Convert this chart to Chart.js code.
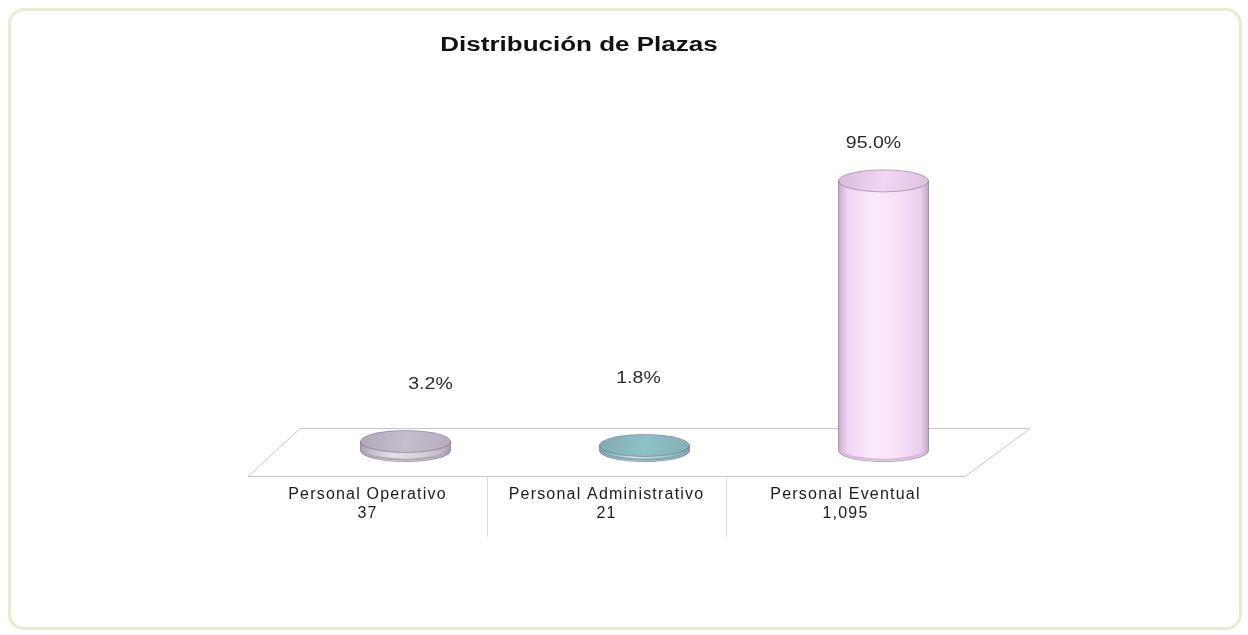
<!DOCTYPE html>
<html>
<head>
<meta charset="utf-8">
<title>Distribución de Plazas</title>
<script src="https://cdn.jsdelivr.net/npm/chart.js@4.4.1/dist/chart.umd.min.js"></script>
<style>
  html, body { margin: 0; padding: 0; background: #ffffff; }
  .marco {
    position: absolute; left: 8px; top: 8px; width: 1228px; height: 616px;
    border: 3px solid #e7ebd3; border-radius: 16px; background: #fffffd;
  }
  #grafica { position: absolute; left: 0; top: 0; }
</style>
</head>
<body>
<div class="marco"></div>
<canvas id="grafica" width="1248" height="635"></canvas>
<script>
// datos de plazas
const categorias = ["Personal Operativo", "Personal Administrativo", "Personal Eventual"];
const plazas = [37, 21, 1095];
const coloresBarra = ["#c2bbcb", "#88bec3", "#f2d3f4"];

const totalPlazas = plazas.reduce((a, b) => a + b, 0);

// desplazamiento de las etiquetas de porcentaje (px) respecto a la tapa del cilindro
const etiquetaSubir = [46, 56, 26];
const etiquetaCorrer = [25, -6, -10];

function mezcla(hex, otro, t) {
  const a = parseInt(hex.slice(1), 16), b = parseInt(otro.slice(1), 16);
  const r = Math.round(((a >> 16) & 255) * (1 - t) + ((b >> 16) & 255) * t);
  const g = Math.round(((a >> 8) & 255) * (1 - t) + ((b >> 8) & 255) * t);
  const bl = Math.round((a & 255) * (1 - t) + (b & 255) * t);
  return "rgb(" + r + "," + g + "," + bl + ")";
}

// piso en perspectiva + cilindros + textos
const cilindros = {
  id: "cilindros",
  beforeDraw(chart) {
    // etiquetas del eje un poco espaciadas
    chart.ctx.letterSpacing = "1.2px";
  },
  beforeDatasetsDraw(chart) {
    const { ctx, chartArea } = chart;
    ctx.letterSpacing = "0px";
    const y0 = chartArea.bottom, l = chartArea.left, r = chartArea.right;
    ctx.save();
    ctx.beginPath();
    ctx.moveTo(l, y0);
    ctx.lineTo(r, y0);
    ctx.lineTo(r + 65, y0 - 48);
    ctx.lineTo(l + 52, y0 - 48);
    ctx.closePath();
    ctx.fillStyle = "#ffffff";
    ctx.fill();
    ctx.strokeStyle = "#c4c4c4";
    ctx.lineWidth = 1;
    ctx.stroke();

    // separadores entre categorías
    const xs = chart.scales.x;
    ctx.strokeStyle = "#dcdcdc";
    for (let i = 1; i < categorias.length; i++) {
      const xb = (xs.getPixelForValue(i - 1) + xs.getPixelForValue(i)) / 2;
      ctx.beginPath();
      ctx.moveTo(Math.round(xb) + 0.5, y0);
      ctx.lineTo(Math.round(xb) + 0.5, y0 + 60);
      ctx.stroke();
    }
    ctx.restore();
  },
  afterDatasetsDraw(chart) {
    const { ctx } = chart;
    const meta = chart.getDatasetMeta(0);
    const dx = 38, dy = -26, ry = 11;
    const oscuro = "#6b5470";
    ctx.save();
    meta.data.forEach((bar, i) => {
      const p = bar.getProps(["x", "y", "base", "width"], true);
      const cx = p.x + dx, top = p.y + dy, bot = p.base + dy;
      const rx = p.width / 2;
      const c = coloresBarra[i];

      // cuerpo del cilindro
      const g = ctx.createLinearGradient(cx - rx, 0, cx + rx, 0);
      g.addColorStop(0, mezcla(c, oscuro, 0.3));
      g.addColorStop(0.1, c);
      g.addColorStop(0.35, mezcla(c, "#ffffff", 0.55));
      g.addColorStop(0.65, mezcla(c, "#ffffff", 0.35));
      g.addColorStop(0.92, mezcla(c, oscuro, 0.05));
      g.addColorStop(1, mezcla(c, oscuro, 0.35));
      ctx.beginPath();
      ctx.moveTo(cx - rx, top);
      ctx.lineTo(cx - rx, bot);
      ctx.ellipse(cx, bot, rx, ry, 0, Math.PI, 0, true);
      ctx.lineTo(cx + rx, top);
      ctx.closePath();
      ctx.fillStyle = g;
      ctx.fill();
      ctx.strokeStyle = "rgba(90,70,100,0.45)";
      ctx.lineWidth = 1;
      ctx.stroke();

      // borde inferior algo más oscuro
      ctx.beginPath();
      ctx.ellipse(cx, bot - 2, rx - 1, ry, 0, Math.PI * 0.08, Math.PI * 0.92);
      ctx.strokeStyle = mezcla(c, oscuro, 0.2);
      ctx.lineWidth = 2;
      ctx.stroke();
      ctx.lineWidth = 1;

      // tapa
      const gt = ctx.createLinearGradient(cx - rx, top - ry, cx + rx, top + ry);
      gt.addColorStop(0, mezcla(c, oscuro, 0.2));
      gt.addColorStop(0.5, mezcla(c, "#ffffff", 0.05));
      gt.addColorStop(1, mezcla(c, oscuro, 0.15));
      ctx.beginPath();
      ctx.ellipse(cx, top, rx, ry, 0, 0, Math.PI * 2);
      ctx.fillStyle = gt;
      ctx.fill();
      ctx.strokeStyle = "rgba(90,70,100,0.4)";
      ctx.stroke();

      // porcentaje
      const pct = (plazas[i] / totalPlazas * 100).toFixed(1) + "%";
      ctx.save();
      ctx.translate(cx + etiquetaCorrer[i], top - ry - etiquetaSubir[i]);
      ctx.scale(1.22, 1);
      ctx.font = "16px 'Liberation Sans', Arial, sans-serif";
      ctx.fillStyle = "#2a2a2a";
      ctx.textAlign = "center";
      ctx.textBaseline = "middle";
      ctx.fillText(pct, 0, 0);
      ctx.restore();
    });

    // título
    ctx.translate(579, 45);
    ctx.scale(1.3, 1);
    ctx.font = "bold 20px 'Liberation Sans', Arial, sans-serif";
    ctx.fillStyle = "#111111";
    ctx.textAlign = "center";
    ctx.textBaseline = "middle";
    ctx.fillText("Distribución de Plazas", 0, 0);
    ctx.restore();
  }
};

const ctx = document.getElementById("grafica").getContext("2d");

const grafica = new Chart(ctx, {
  type: "bar",
  data: {
    labels: categorias,
    datasets: [{
      label: "Plazas",
      data: plazas,
      backgroundColor: "rgba(0,0,0,0)",
      borderWidth: 0,
      barPercentage: 0.377,
      categoryPercentage: 1
    }]
  },
  options: {
    responsive: false,
    animation: false,
    devicePixelRatio: 1,
    layout: { padding: { left: 248, right: 283, top: 181, bottom: 112 } },
    plugins: { legend: { display: false }, tooltip: { enabled: false }, title: { display: false } },
    scales: {
      y: { display: false, min: 0, max: 1200 },
      x: {
        grid: { display: false },
        border: { display: false },
        ticks: {
          padding: 0,
          maxRotation: 0,
          color: "#1c1c1c",
          font: { family: "'Liberation Sans', Arial, sans-serif", size: 16 },
          callback: (v, i) => [categorias[i], plazas[i].toLocaleString("en-US")]
        }
      }
    }
  },
  plugins: [cilindros]
});
</script>
</body>
</html>
